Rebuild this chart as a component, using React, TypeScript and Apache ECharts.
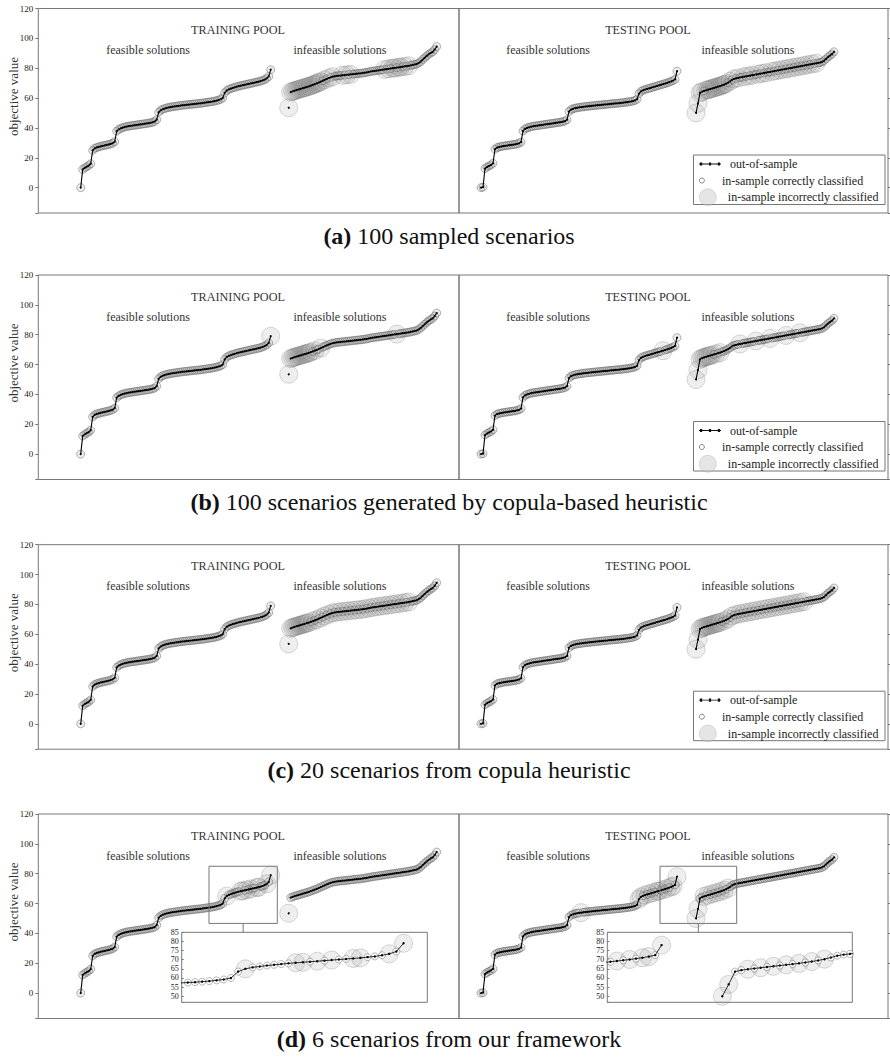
import React, { useEffect, useRef } from 'react';
import * as echarts from 'echarts';

// ---------------- DATA ----------------
// Sorted objective values of solutions (out-of-sample), training pool
const trainFeasible = [
  0,
  12.2, 13.2, 14, 14.8, 16,
  25, 26.3, 26.9, 27.3, 27.7, 28, 28.3, 28.6, 28.9, 29.3, 29.8, 30.8,
  37.8, 39, 39.7, 40.2, 40.6, 40.9, 41.2, 41.4, 41.6, 41.8, 42, 42.2, 42.4, 42.6, 42.8, 43, 43.2, 43.5, 43.8, 44.3, 45.5,
  50.5, 51.8, 52.5, 53, 53.4, 53.7, 54, 54.2, 54.4, 54.6, 54.8, 55, 55.2, 55.3, 55.5, 55.6, 55.8, 55.9, 56.1, 56.2, 56.4, 56.5, 56.7, 56.9, 57.1, 57.3, 57.5, 57.7, 58, 58.3, 58.7, 59.2, 60,
  63.5, 65, 65.8, 66.3, 66.8, 67.2, 67.6, 68, 68.3, 68.6, 68.9, 69.2, 69.5, 69.8, 70.1, 70.4, 70.7, 71, 71.4, 71.8, 72.4, 73.2, 74.5, 79,
];
// first value is an isolated solution (not joined to the curve)
const trainInfeasible = [
  53.5,
  64, 64.5, 65, 65.4, 65.8, 66.2, 66.6, 67, 67.4, 67.8, 68.3, 68.8, 69.3, 69.8, 70.4, 71, 71.6, 72.2, 72.8, 73.4, 73.9, 74.3,
  74.6, 74.8, 75, 75.1, 75.3, 75.4, 75.6, 75.7, 75.9, 76, 76.2, 76.3, 76.5, 76.6, 76.8, 77, 77.2,
  77.5, 77.8, 78, 78.2, 78.4, 78.6, 78.8, 79, 79.2, 79.4, 79.6, 79.8, 80,
  80.2, 80.4, 80.6, 80.8, 81, 81.2, 81.4, 81.6, 81.9, 82.2, 82.5, 82.8,
  83.5, 84.5, 85.8, 87, 88.2, 89.3, 90.2, 91, 92.5, 94.5,
];
// testing pool
const testFeasible = [
  0, 0.3,
  12.8, 13.8, 14.5, 15.2, 16.3,
  25.8, 26.8, 27.2, 27.5, 27.8, 28, 28.2, 28.4, 28.6, 28.8, 29, 29.3, 29.7, 30.5,
  38, 39.3, 40, 40.4, 40.8, 41.1, 41.3, 41.5, 41.7, 41.9, 42.1, 42.3, 42.5, 42.7, 42.9, 43.1, 43.3, 43.5, 43.7, 43.9, 44.2, 44.6, 45.5,
  51, 52.2, 52.8, 53.2, 53.5, 53.7, 53.9, 54.1, 54.3, 54.4, 54.6, 54.7, 54.9, 55, 55.2, 55.3, 55.4, 55.6, 55.7, 55.8, 56, 56.1, 56.2, 56.4, 56.5, 56.6, 56.8, 56.9, 57.1, 57.3, 57.5, 57.7, 58, 58.4, 59.2,
  63, 64.5, 65.2, 65.7, 66.1, 66.5, 66.9, 67.3, 67.7, 68.1, 68.5, 68.9, 69.3, 69.7, 70.1, 70.6, 71.1, 71.7, 72.5, 78,
];
const testInfeasible = [
  50, 56.5, 63.5,
  64.3, 64.8, 65.2, 65.6, 66, 66.4, 66.8, 67.2, 67.6, 68, 68.5, 69, 69.6, 70.3, 71.2, 72.2,
  72.8, 73.2, 73.5, 73.8, 74, 74.3, 74.5, 74.8, 75, 75.3, 75.5, 75.8, 76, 76.3, 76.5, 76.8, 77, 77.3, 77.5, 77.8,
  78, 78.3, 78.5, 78.8, 79, 79.3, 79.5, 79.8, 80, 80.3, 80.5, 80.8, 81, 81.3, 81.5, 81.8, 82, 82.3, 82.5, 82.8,
  83, 83.3, 83.5, 83.8, 84.2,
  85, 86.2, 87.5, 88.5, 89.5, 91,
];

// indices of in-sample incorrectly classified solutions, per panel (a)..(d)
const trainFeasWrong = [
  [],
  [95],
  [],
  [73, 80, 81, 83, 85, 88, 89, 93, 95],
];
const trainInfWrong = [
  [0, 1, 2, 3, 4, 5, 6, 7, 8, 9, 10, 11, 12, 13, 14, 15, 16, 18, 20, 22, 27, 29, 31, 48, 50, 52, 53, 55, 56, 58, 60],
  [0, 1, 2, 3, 4, 5, 6, 7, 8, 9, 10, 11, 13, 16, 54],
  [0, 1, 2, 3, 4, 5, 6, 7, 8, 9, 10, 12, 14, 16, 18, 20, 22, 24, 26, 28, 30, 32, 34, 36, 38, 40, 42, 44, 46, 48, 50, 52, 54, 56, 58, 60],
  [0],
];
const testFeasWrong = [
  [],
  [91],
  [],
  [50, 79, 80, 82, 84, 86, 88, 89, 91, 93, 95, 96, 98],
];
const testInfWrong = [
  [0, 1, 2, 3, 5, 6, 7, 8, 9, 10, 11, 12, 13, 14, 15, 17, 19, 21, 24, 26, 28, 31, 33, 35, 38, 40, 42, 44, 46, 48, 50, 52, 54, 56, 58, 60],
  [0, 1, 2, 3, 4, 5, 6, 7, 8, 10, 12, 22, 30, 37, 45, 52],
  [0, 1, 2, 3, 4, 5, 6, 7, 8, 9, 10, 11, 12, 14, 16, 18, 20, 22, 24, 26, 28, 30, 32, 34, 36, 38, 40, 42, 44, 46, 48, 50, 52, 54],
  [0, 1, 4, 6, 8, 10, 12, 14, 16],
];

const panelTags = ['(a)', '(b)', '(c)', '(d)'];
const panelCaptions = [
  '100 sampled scenarios',
  '100 scenarios generated by copula-based heuristic',
  '20 scenarios from copula heuristic',
  '6 scenarios from our framework',
];
const yTickLabels = [0, 20, 40, 60, 80, 100, 120];
const insetTickLabels = [50, 55, 60, 65, 70, 75, 80, 85];

// ---------------- LAYOUT ----------------
const FONT = 'Liberation Serif';
const PANEL_TOP = [8.5, 275, 544.7, 814];
const PANEL_H = 204.5;
const LEFT = 38.3;
const MID = 459;
const RIGHT = 888;
const Y_MIN = -17;
const Y_MAX = 120;
const TRAIN_X = [-21.2, 189.15];
const TEST_X = [-11, 203.5];
const TRAIN_INF_OFFSET = 104;
const TEST_INF_OFFSET = 107.5;
const INSET_Y = [46.7, 85];
const TRAIN_INSET_X = [64.15, 98.3];
const TEST_INSET_X = [89.5, 127.85];
const INSET_TOP = 932.3;
const INSET_H = 70;
const CAPTION_Y = [237, 503, 771, 1040];
const CAPTION_X = 449;

const BIG = { color: 'rgba(120,120,120,0.16)', borderColor: 'rgba(60,60,60,0.4)', borderWidth: 0.6 };
const SMALL = { color: 'rgba(180,180,180,0.3)', borderColor: '#555', borderWidth: 0.55 };
const SMALL_INSET = { color: 'rgba(255,255,255,0.85)', borderColor: '#666', borderWidth: 0.6 };
const LINE_ICON = 'path://M0,1.2H22V2H0Z M1,0H3.2V3.2H1Z M9.9,0H12.1V3.2H9.9Z M18.8,0H21V3.2H18.8Z';

const toPts = (vals: number[], offset: number) => vals.map((v, i) => [offset + i, v]);

function poolSeries(
  g: number,
  feas: number[],
  inf: number[],
  infOffset: number,
  wrongF: number[],
  wrongI: number[],
  isolatedLead: number,
  inset: boolean
) {
  const fp = toPts(feas, 0);
  const ip = toPts(inf, infOffset);
  const correct = fp.filter((_, i) => !wrongF.includes(i)).concat(ip.filter((_, j) => !wrongI.includes(j)));
  const wrong = fp.filter((_, i) => wrongF.includes(i)).concat(ip.filter((_, j) => wrongI.includes(j)));
  const lineBase = {
    name: 'out-of-sample',
    type: 'line',
    xAxisIndex: g,
    yAxisIndex: g,
    symbol: 'circle',
    symbolSize: inset ? 2.4 : 2,
    showSymbol: true,
    silent: true,
    lineStyle: { color: '#000', width: inset ? 0.8 : 1.1 },
    itemStyle: { color: '#000' },
    z: 5,
  };
  const s: any[] = [
    {
      name: 'in-sample incorrectly classified',
      type: 'scatter',
      xAxisIndex: g,
      yAxisIndex: g,
      data: wrong,
      symbolSize: 18,
      itemStyle: BIG,
      silent: true,
      z: 2,
    },
    {
      name: 'in-sample correctly classified',
      type: 'scatter',
      xAxisIndex: g,
      yAxisIndex: g,
      data: correct,
      symbolSize: inset ? 7 : 8,
      itemStyle: inset ? SMALL_INSET : SMALL,
      silent: true,
      z: 3,
    },
    { ...lineBase, data: fp },
    { ...lineBase, data: ip.slice(isolatedLead) },
  ];
  if (isolatedLead > 0) s.push({ ...lineBase, data: ip.slice(0, isolatedLead) });
  return s;
}

function mainYAxis(g: number, right: boolean) {
  return {
    type: 'value',
    gridIndex: g,
    min: Y_MIN,
    max: Y_MAX,
    splitNumber: 7,
    position: right ? 'right' : 'left',
    axisLine: { show: false, onZero: false },
    axisTick: { show: true, inside: false, length: 3, lineStyle: { color: '#777' } },
    axisLabel: {
      show: !right,
      fontSize: 9,
      color: '#222',
      margin: 5,
      fontFamily: FONT,
      formatter: (v: number) => (yTickLabels.includes(v) ? String(v) : ''),
    },
    splitLine: { show: false },
  };
}

function insetYAxis(g: number) {
  return {
    type: 'value',
    gridIndex: g,
    min: INSET_Y[0],
    max: INSET_Y[1],
    splitNumber: 8,
    axisLine: { show: false, onZero: false },
    axisTick: { show: true, inside: true, length: 2, lineStyle: { color: '#777' } },
    axisLabel: {
      fontSize: 8,
      color: '#222',
      margin: 3,
      fontFamily: FONT,
      formatter: (v: number) => (insetTickLabels.includes(v) ? String(v) : ''),
    },
    splitLine: { show: false },
  };
}

function txt(text: string, x: number, y: number, size: number, extra: any = {}) {
  return {
    type: 'text',
    x,
    y,
    silent: true,
    ...extra,
    style: {
      text,
      fill: '#333',
      fontSize: size,
      fontFamily: FONT,
      textAlign: 'center',
      textVerticalAlign: 'middle',
      align: 'center',
      verticalAlign: 'middle',
    },
  };
}

export default function App() {
  const ref = useRef<HTMLDivElement>(null);
  useEffect(() => {
    if (!ref.current) return;
    const chart = echarts.init(ref.current, undefined, { renderer: 'svg' });

    const grids: any[] = [];
    const xAxis: any[] = [];
    const yAxis: any[] = [];
    let series: any[] = [];
    const legend: any[] = [];
    const title: any[] = [];
    const graphic: any[] = [];
    const legendText = { fontFamily: FONT, fontSize: 12, color: '#222', lineHeight: 13, padding: [0, 0, 0, 4] };

    for (let p = 0; p < 4; p++) {
      const top = PANEL_TOP[p];
      const gT = 2 * p;
      const gS = 2 * p + 1;
      grids.push({ left: LEFT, top, width: MID - LEFT, height: PANEL_H, show: true, borderColor: '#777', borderWidth: 1, backgroundColor: 'transparent' });
      grids.push({ left: MID, top, width: RIGHT - MID, height: PANEL_H, show: true, borderColor: '#777', borderWidth: 1, backgroundColor: 'transparent' });
      xAxis.push({ type: 'value', gridIndex: gT, min: TRAIN_X[0], max: TRAIN_X[1], show: false });
      xAxis.push({ type: 'value', gridIndex: gS, min: TEST_X[0], max: TEST_X[1], show: false });
      yAxis.push(mainYAxis(gT, false));
      yAxis.push(mainYAxis(gS, true));
      series = series.concat(
        poolSeries(gT, trainFeasible, trainInfeasible, TRAIN_INF_OFFSET, trainFeasWrong[p], trainInfWrong[p], 1, false),
        poolSeries(gS, testFeasible, testInfeasible, TEST_INF_OFFSET, testFeasWrong[p], testInfWrong[p], 0, false)
      );

      title.push({
        text: '{b|' + panelTags[p] + '} {n|' + panelCaptions[p] + '}',
        left: CAPTION_X,
        textAlign: 'center',
        top: CAPTION_Y[p] - 13,
        padding: 0,
        textStyle: {
          fontFamily: FONT,
          fontSize: 24,
          fontWeight: 'normal',
          color: '#111',
          rich: {
            b: { fontFamily: FONT, fontSize: 24, fontWeight: 'bold', color: '#111' },
            n: { fontFamily: FONT, fontSize: 24, fontWeight: 'normal', color: '#111' },
          },
        },
      });

      graphic.push(txt('objective value', 13, top + 88, 13, { rotation: Math.PI / 2 }));
      graphic.push(txt('TRAINING POOL', 238, top + 21.5, 12.2));
      graphic.push(txt('feasible solutions', 148, top + 41.5, 12));
      graphic.push(txt('infeasible solutions', 340, top + 41.5, 12));
      graphic.push(txt('TESTING POOL', 648, top + 21.5, 12.2));
      graphic.push(txt('feasible solutions', 548, top + 41.5, 12));
      graphic.push(txt('infeasible solutions', 748, top + 41.5, 12));

      if (p < 3) {
        graphic.push({
          type: 'rect',
          silent: true,
          z: 1,
          shape: { x: 693.5, y: top + 146.5, width: 191.5, height: 49.5 },
          style: { fill: '#fff', stroke: '#777', lineWidth: 1 },
        });
        legend.push({
          left: 699, top: top + 155.5 - 6.5, padding: 0, itemWidth: 22, itemHeight: 3.2, selectedMode: false, textStyle: legendText, z: 5,
          data: [{ name: 'out-of-sample', icon: LINE_ICON, itemStyle: { color: '#111', borderWidth: 0 } }],
        });
        legend.push({
          left: 699, top: top + 172 - 6.5, padding: 0, itemWidth: 22, itemHeight: 5, selectedMode: false, textStyle: legendText, z: 5,
          data: [{ name: 'in-sample correctly classified', icon: 'circle', itemStyle: { color: '#fff', borderColor: '#444', borderWidth: 0.8 } }],
        });
        legend.push({
          left: 699, top: top + 188.5 - 8.5, padding: 0, itemWidth: 22, itemHeight: 17, selectedMode: false, textStyle: legendText, z: 5,
          data: [{ name: 'in-sample incorrectly classified', icon: 'circle', itemStyle: { color: 'rgba(200,200,200,0.6)', borderColor: 'rgba(150,150,150,0.6)', borderWidth: 0.6 } }],
        });
      }
    }

    // insets for panel (d)
    const gi1 = 8;
    const gi2 = 9;
    grids.push({ left: 181.7, top: INSET_TOP, width: 245.6, height: INSET_H, show: true, borderColor: '#777', borderWidth: 1, backgroundColor: '#fff' });
    grids.push({ left: 607.3, top: INSET_TOP, width: 245, height: INSET_H, show: true, borderColor: '#777', borderWidth: 1, backgroundColor: '#fff' });
    xAxis.push({ type: 'value', gridIndex: gi1, min: TRAIN_INSET_X[0], max: TRAIN_INSET_X[1], show: false });
    xAxis.push({ type: 'value', gridIndex: gi2, min: TEST_INSET_X[0], max: TEST_INSET_X[1], show: false });
    yAxis.push(insetYAxis(gi1));
    yAxis.push(insetYAxis(gi2));
    series = series.concat(
      poolSeries(gi1, trainFeasible, trainInfeasible, TRAIN_INF_OFFSET, trainFeasWrong[3], trainInfWrong[3], 1, true),
      poolSeries(gi2, testFeasible, testInfeasible, TEST_INF_OFFSET, testFeasWrong[3], testInfWrong[3], 0, true)
    );

    chart.setOption({
      animation: false,
      backgroundColor: '#fff',
      textStyle: { fontFamily: FONT },
      title,
      grid: grids,
      xAxis,
      yAxis,
      legend,
      series,
      graphic,
    });

    // zoom rectangles + connectors in panel (d), computed from the axes
    const zoomG: any[] = [];
    const pairs: [number, number, number[]][] = [
      [6, gi1, TRAIN_INSET_X],
      [7, gi2, TEST_INSET_X],
    ];
    pairs.forEach(([g, gi, xr]) => {
      const a = chart.convertToPixel({ gridIndex: g }, [xr[0], INSET_Y[1]]) as number[];
      const b = chart.convertToPixel({ gridIndex: g }, [xr[1], INSET_Y[0]]) as number[];
      const insetTop = (chart.convertToPixel({ gridIndex: gi }, [xr[0], INSET_Y[1]]) as number[])[1];
      const cx = (a[0] + b[0]) / 2;
      zoomG.push({
        type: 'rect',
        silent: true,
        z: 10,
        shape: { x: a[0], y: a[1], width: b[0] - a[0], height: b[1] - a[1] },
        style: { fill: 'none', stroke: '#777', lineWidth: 1 },
      });
      zoomG.push({
        type: 'line',
        silent: true,
        z: 10,
        shape: { x1: cx, y1: b[1], x2: cx, y2: insetTop },
        style: { stroke: '#777', lineWidth: 1 },
      });
    });
    chart.setOption({ graphic: graphic.concat(zoomG) }, { replaceMerge: ['graphic'] });

    return () => chart.dispose();
  }, []);

  return <div ref={ref} style={{ position: 'absolute', left: 0, top: 0, width: 890, height: 1059 }} />;
}
